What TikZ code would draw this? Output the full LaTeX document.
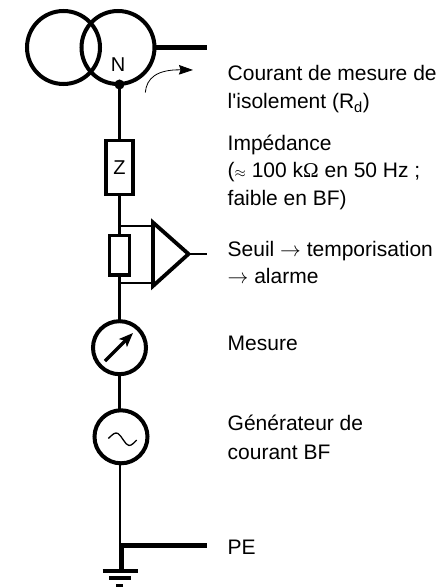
\documentclass[tikz,border=0pt]{standalone}
\usepackage{fontspec}
\setmainfont{Liberation Sans}
\newfontfamily\omegafont{Liberation Serif}
\usetikzlibrary{arrows.meta}
\begin{document}
\begin{tikzpicture}[x=1pt,y=-1pt,
  ring/.style={draw=black,circle,line width=4pt,inner sep=0pt,outer sep=0pt,minimum size=#1},
  boxsym/.style={draw=black,line width=3.5pt,inner sep=0pt,outer sep=0pt,minimum width=#1},
  wire/.style={line width=2.2pt,black},
  heavy/.style={line width=5pt,black},
  lbl/.style={anchor=base west,inner sep=0pt,font=\fontsize{21pt}{21pt}\selectfont,text=black},
  symtxt/.style={inner sep=0pt,font=\fontsize{20pt}{20pt}\selectfont,text=black}]
\useasboundingbox (0,0) rectangle (446,588);
% transformer
\node[ring=73pt] (t1) at (63.5,47.5) {};
\node[ring=73pt] (t2) at (118,47.5) {};
\coordinate (hvout) at (207,47.5);
\draw[heavy] (t2.east) -- (hvout);
\node[symtxt,anchor=base] (nlabel) at (118,71.7) {N};
\node[circle,fill=black,inner sep=0pt,outer sep=0pt,minimum size=10pt] (ndot) at (119.5,84.5) {};
% impedance
\node[boxsym=27pt,minimum height=53.5pt,symtxt,line width=3.5pt,draw=black] (z) at (119.5,167.5) {Z};
\draw[wire] (ndot.center) -- (z.north);
% shunt
\node[boxsym=20pt,minimum height=39.5pt] (shunt) at (119.5,255) {};
\coordinate (topj) at (119.5,226);
\coordinate (botj) at (119.5,283);
\draw[wire] (z.south) -- (shunt.north);
% comparator
\coordinate (tria) at (153,222.5);
\coordinate (trib) at (153,286);
\coordinate (trip) at (188.5,254);
\draw[line width=3.8pt,black,line join=miter] (tria) -- (trip) -- (trib) -- cycle;
\coordinate (cin1) at (153,226);
\coordinate (cin2) at (153,283);
\coordinate (cout) at (207,254);
\draw[line width=2pt,black] (topj) -- (cin1);
\draw[line width=2pt,black] (botj) -- (cin2);
\draw[line width=2pt,black] (trip) -- (cout);
% meter
\node[ring=53pt] (meter) at (119.5,347.7) {};
\coordinate (marrA) at (105,361);
\coordinate (marrB) at (133,333);
\draw[line width=3.5pt,black,-{Stealth[length=14pt,width=11pt,inset=3pt]}] (marrA) -- (marrB);
\draw[wire] (shunt.south) -- (meter.north);
% generator
\node[ring=53pt] (gen) at (121,436.8) {};
\coordinate (gtop) at (119.5,408.5);
\draw[wire] (meter.south) -- (gtop);
\draw[line width=1.3pt,black] (108.3,438.5) .. controls (113,434) and (115,432) .. (118,433.5)
  .. controls (122,436) and (125,445) .. (129,445.5) .. controls (132,445.5) and (134,442.5) .. (136.7,440);
% earth
\coordinate (ej) at (120,545.3);
\coordinate (pe) at (207,545.3);
\coordinate (ee) at (121,571);
\draw[wire] (gen.south -| ej) -- (ej);
\draw[heavy] (ej) -- (pe);
\draw[heavy] (121,543) -- (ee);
\draw[line width=4pt,black] (102.5,571) -- (137.5,571);
\draw[line width=3.5pt,black] (109,578.2) -- (130.5,578.2);
\draw[line width=3.5pt,black] (116,585.7) -- (123,585.7);
% current arrow
\coordinate (cura) at (145.3,92.5);
\coordinate (curb) at (193,70);
\draw[line width=0.8pt,black,-{Stealth[length=14pt,width=9.5pt,inset=1.5pt]}] (cura) .. controls (146.5,78) and (157,69.5) .. (curb);
% labels
\node[lbl] (l1) at (227.5,81) {Courant de mesure de};
\node[lbl] (l2) at (227.5,109) {l\textquotesingle isolement (R\textsubscript{d})};
\node[lbl] (l3) at (227.5,150) {Impédance};
\node[lbl] (l4) at (227.5,177.7) {(\scalebox{0.7}{$\approx$} 100 k{\omegafont Ω} en 50 Hz ;};
\node[lbl] (l5) at (227.5,205) {faible en BF)};
\node[lbl] (l6) at (227.5,256.7) {Seuil $\rightarrow$ temporisation};
\node[lbl] (l7) at (227.5,283) {$\rightarrow$ alarme};
\node[lbl] (l8) at (227.5,350) {Mesure};
\node[lbl] (l9) at (227.5,430) {Générateur de};
\node[lbl] (l10) at (227.5,459.3) {courant BF};
\node[lbl] (l11) at (227.5,554.3) {PE};
\end{tikzpicture}
\end{document}
